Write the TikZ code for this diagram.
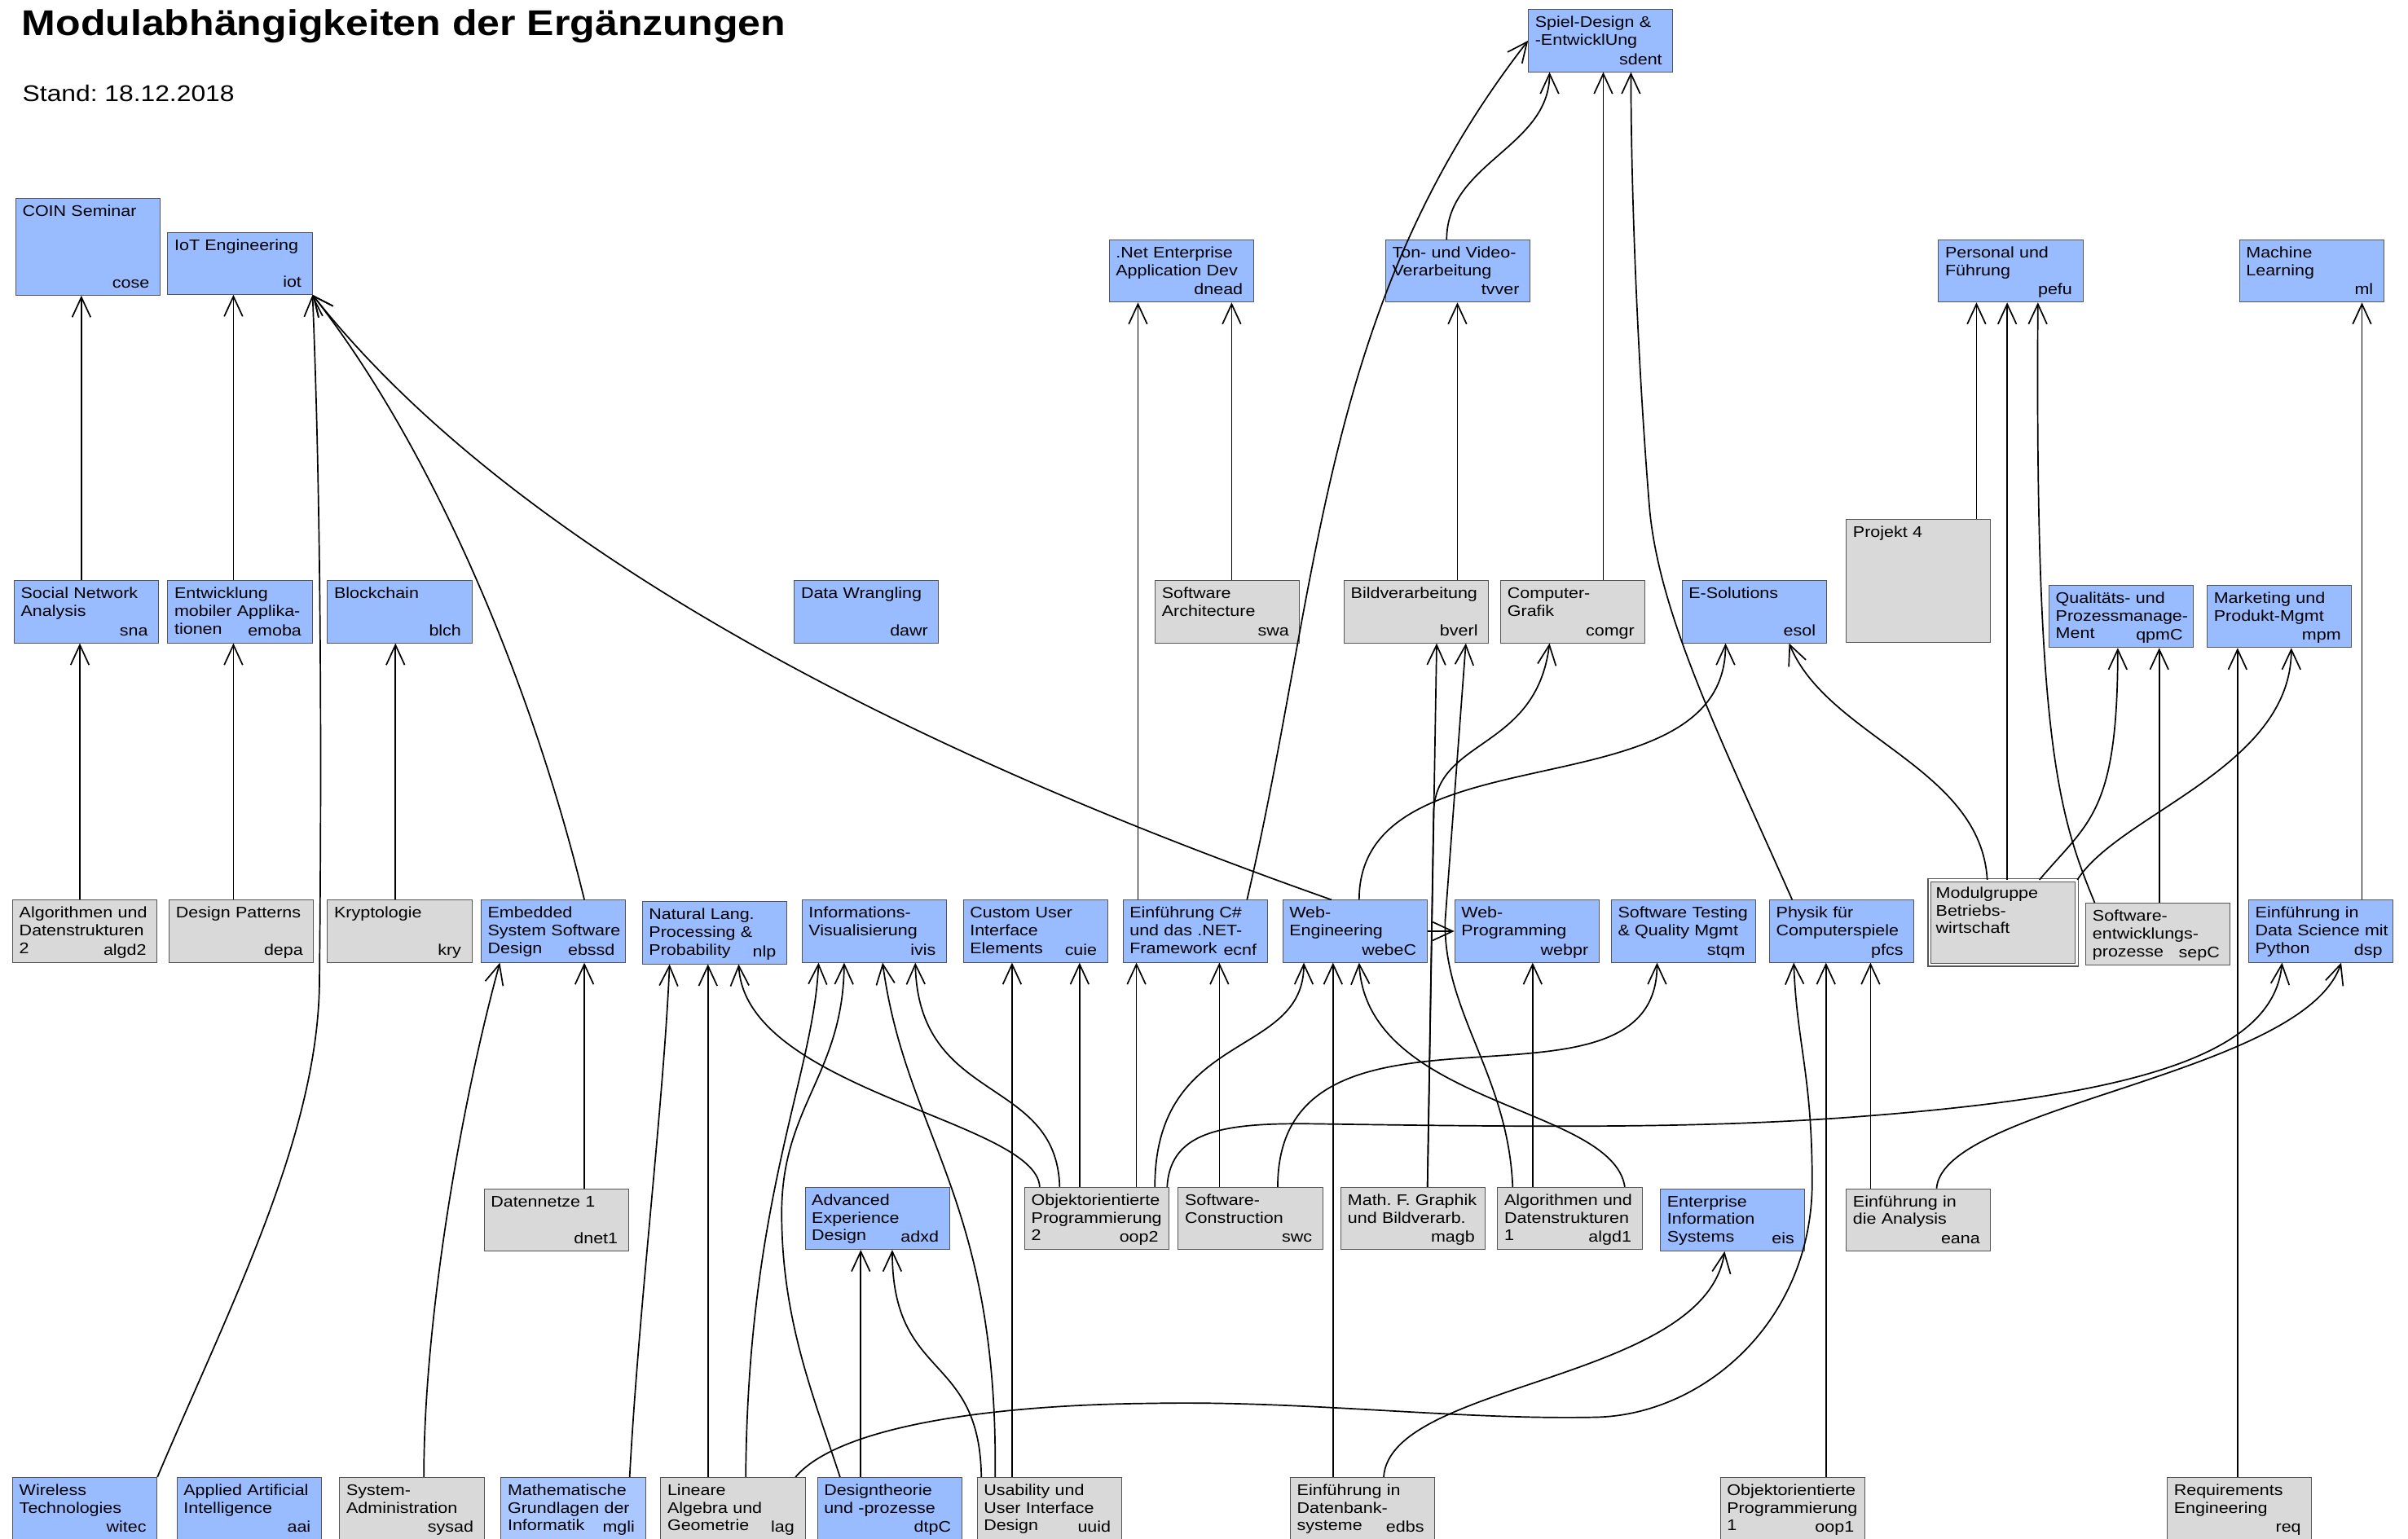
\documentclass[tikz,border=0pt]{standalone}
\usepackage{fontspec}
\setmainfont{Liberation Sans}[FakeStretch=1.14]
\usetikzlibrary{arrows.meta}
\definecolor{modblau}{RGB}{153,187,255}
\definecolor{modhell}{RGB}{170,200,255}
\definecolor{modgrau}{RGB}{217,217,217}
\definecolor{rahmen}{RGB}{85,85,85}
\frenchspacing
% Modul: Kasten, Titel oben links, Kuerzel unten rechts
\newcommand{\modul}[5]{%
  \node[#1] (#2) at (#3) {};
  \node[modtext] (#2-t) at (#2.north west) {#4};
  \node[modkurz] (#2-k) at (#2.south east) {#5};
}

\begin{document}
\begin{tikzpicture}[x=1pt, y=-1pt,
  modul/.style={draw=rahmen, line width=0.5pt, anchor=north west, inner sep=0pt, minimum width=94pt, minimum height=40.5pt},
  blau/.style={modul, fill=modblau},
  hell/.style={modul, fill=modhell},
  grau/.style={modul, fill=modgrau},
  modtext/.style={anchor=base west, align=left, text width=100pt, inner sep=0pt, xshift=4.4pt, yshift=-12pt, font=\fontsize{10}{11.5}\selectfont},
  modkurz/.style={anchor=base east, inner sep=0pt, xshift=-7pt, yshift=5pt, font=\fontsize{10}{11.5}\selectfont},
  pfeil/.style={-{Straight Barb[length=13pt, width=12pt]}, line width=0.9pt, line join=round}]

  \useasboundingbox (0,0) rectangle (1568,1002);

  % Titel
  \node[anchor=base west, inner sep=0pt, font=\bfseries\fontsize{23.3}{28}\selectfont] (titel) at (14,23) {Modulabhängigkeiten der Ergänzungen};
  \node[anchor=base west, inner sep=0pt, font=\fontsize{14.8}{18}\selectfont] (stand) at (14.5,66) {Stand: 18.12.2018};

  % oberste Reihen
  \modul{blau}{sdent}{995,6}{Spiel-Design \&\\-EntwicklUng}{sdent}
  \modul{blau, minimum height=63pt}{cose}{10,129}{COIN Seminar}{cose}
  \modul{blau}{iot}{109,151}{IoT Engineering}{iot}
  \modul{blau}{dnead}{722,156}{.Net Enterprise\\Application Dev}{dnead}
  \modul{blau}{tvver}{902,156}{Ton- und Video-\\Verarbeitung}{tvver}
  \modul{blau}{pefu}{1262,156}{Personal und\\Führung}{pefu}
  \modul{blau}{ml}{1458,156}{Machine\\Learning}{ml}

  % mittlere Reihe
  \modul{blau}{sna}{9,378}{Social Network\\Analysis}{sna}
  \modul{blau}{emoba}{109,378}{Entwicklung\\mobiler Applika-\\tionen}{emoba}
  \modul{blau}{blch}{213,378}{Blockchain}{blch}
  \modul{blau}{dawr}{517,378}{Data Wrangling}{dawr}
  \modul{grau}{swa}{752,378}{Software\\Architecture}{swa}
  \modul{grau}{bverl}{875,378}{Bildverarbeitung}{bverl}
  \modul{grau}{comgr}{977,378}{Computer-\\Grafik}{comgr}
  \modul{blau}{esol}{1095,378}{E-Solutions}{esol}
  \modul{grau, minimum height=80pt}{proj4}{1202,338}{Projekt 4}{}
  \modul{blau}{qpmC}{1334,381}{Qualitäts- und\\Prozessmanage-\\Ment}{qpmC}
  \modul{blau}{mpm}{1437,381}{Marketing und\\Produkt-Mgmt}{mpm}

  % vierte Reihe
  \modul{grau}{algd2}{8,586}{Algorithmen und\\Datenstrukturen\\2}{algd2}
  \modul{grau}{depa}{110,586}{Design Patterns}{depa}
  \modul{grau}{kry}{213,586}{Kryptologie}{kry}
  \modul{blau}{ebssd}{313,586}{Embedded\\System Software\\Design}{ebssd}
  \modul{blau}{nlp}{418,587}{Natural Lang.\\Processing \&\\Probability}{nlp}
  \modul{blau}{ivis}{522,586}{Informations-\\Visualisierung}{ivis}
  \modul{blau}{cuie}{627,586}{Custom User\\Interface\\Elements}{cuie}
  \modul{blau}{ecnf}{731,586}{Einführung C\#\\und das .NET-\\Framework}{ecnf}
  \modul{blau}{webeC}{835,586}{Web-\\Engineering}{webeC}
  \modul{blau}{webpr}{947,586}{Web-\\Programming}{webpr}
  \modul{blau}{stqm}{1049,586}{Software Testing\\\& Quality Mgmt}{stqm}
  \modul{blau}{pfcs}{1152,586}{Physik für\\Computerspiele}{pfcs}
  \modul{grau, minimum width=96pt, minimum height=55pt, double=white, double distance=1.2pt, line width=0.7pt}{modbw}{1256,573}{Modulgruppe\\Betriebs-\\wirtschaft}{}
  \modul{grau}{sepC}{1358,588}{Software-\\entwicklungs-\\prozesse}{sepC}
  \modul{blau}{dsp}{1464,586}{Einführung in\\Data Science mit\\Python}{dsp}

  % fuenfte Reihe
  \modul{grau}{dnet1}{315,774}{Datennetze 1}{dnet1}
  \modul{blau}{adxd}{524,773}{Advanced\\Experience\\Design}{adxd}
  \modul{grau}{oop2}{667,773}{Objektorientierte\\Programmierung\\2}{oop2}
  \modul{grau}{swc}{767,773}{Software-\\Construction}{swc}
  \modul{grau}{magb}{873,773}{Math. F. Graphik\\und Bildverarb.}{magb}
  \modul{grau}{algd1}{975,773}{Algorithmen und\\Datenstrukturen\\1}{algd1}
  \modul{blau}{eis}{1081,774}{Enterprise\\Information\\Systems}{eis}
  \modul{grau}{eana}{1202,774}{Einführung in\\die Analysis}{eana}

  % unterste Reihe
  \modul{blau}{witec}{8,962}{Wireless\\Technologies}{witec}
  \modul{blau}{aai}{115,962}{Applied Artificial\\Intelligence}{aai}
  \modul{grau}{sysad}{221,962}{System-\\Administration}{sysad}
  \modul{hell}{mgli}{326,962}{Mathematische\\Grundlagen der\\Informatik}{mgli}
  \modul{grau}{lag}{430,962}{Lineare\\Algebra und\\Geometrie}{lag}
  \modul{blau}{dtpC}{532,962}{Designtheorie\\und -prozesse}{dtpC}
  \modul{grau}{uuid}{636,962}{Usability und\\User Interface\\Design}{uuid}
  \modul{grau}{edbs}{840,962}{Einführung in\\Datenbank-\\systeme}{edbs}
  \modul{grau}{oop1}{1120,962}{Objektorientierte\\Programmierung\\1}{oop1}
  \modul{grau}{req}{1411,962}{Requirements\\Engineering}{req}

  % Pfeile nach oben
  \draw[pfeil] (ecnf.north -| 812,0) .. controls (860,380) and (860,200) .. (sdent.west);
  \draw[pfeil] (tvver.north -| 942,0) .. controls (942,106) and (1009,96) .. (sdent.south -| 1009,0);
  \draw[pfeil] (comgr.north -| 1044,0) -- (sdent.south -| 1044,0);
  \draw[pfeil] (pfcs.north -| 1167,0) .. controls (1120,480) and (1080,400) .. (1074,330) .. controls (1066,230) and (1062,120) .. (sdent.south -| 1062,0);
  \draw[pfeil] (sna.north -| 53,0) -- (cose.south -| 53,0);
  \draw[pfeil] (emoba.north -| 152,0) -- (iot.south -| 152,0);
  \draw[pfeil] (witec.north east) .. controls (150,850) and (207,740) .. (208,640) .. controls (210,450) and (208,300) .. (iot.south east);
  \draw[pfeil] (ebssd.north -| 380.5,0) .. controls (345,440) and (280,290) .. (iot.south east);
  \draw[pfeil] (webeC.north -| 867,0) .. controls (680,520) and (360,390) .. (iot.south east);
  \draw[pfeil] (ecnf.north -| 741,0) -- (dnead.south -| 741,0);
  \draw[pfeil] (swa.north -| 802,0) -- (dnead.south -| 802,0);
  \draw[pfeil] (bverl.north -| 949,0) -- (tvver.south -| 949,0);
  \draw[pfeil] (proj4.north -| 1287,0) -- (pefu.south -| 1287,0);
  \draw[pfeil] (modbw.north -| 1307,0) -- (pefu.south -| 1307,0);
  \draw[pfeil] (sepC.north -| 1364,0) .. controls (1340,530) and (1325,480) .. (pefu.south -| 1327,0);
  \draw[pfeil] (dsp.north -| 1538,0) -- (ml.south -| 1538,0);

  % zur mittleren Reihe
  \draw[pfeil] (algd2.north -| 52,0) -- (sna.south -| 52,0);
  \draw[pfeil] (depa.north -| 152,0) -- (emoba.south -| 152,0);
  \draw[pfeil] (kry.north -| 257.5,0) -- (blch.south -| 257.5,0);
  \draw[pfeil] (magb.north -| 929.5,0) -- (bverl.south -| 935.5,0);
  \draw[pfeil] (algd1.north -| 985,0) .. controls (982,700) and (940,660) .. (941,600) -- (bverl.south -| 954.5,0);
  \draw[pfeil] (magb.north -| 929.5,0) -- (933.5,530) .. controls (934,480) and (1000,490) .. (comgr.south -| 1009,0);
  \draw[pfeil] (webeC.north -| 885,0) .. controls (885,472) and (1123.6,532) .. (esol.south -| 1123.6,0);
  \draw[pfeil] (modbw.north -| 1294,0) .. controls (1290,500) and (1190,480) .. (esol.south -| 1165,0);
  \draw[pfeil] (modbw.north -| 1328,0) .. controls (1360,535) and (1379,530) .. (qpmC.south -| 1379,0);
  \draw[pfeil] (sepC.north -| 1406,0) -- (qpmC.south -| 1406,0);
  \draw[pfeil] (modbw.north east) .. controls (1380,530) and (1492,500) .. (mpm.south -| 1492,0);
  \draw[pfeil] (req.north -| 1457,0) -- (mpm.south -| 1457,0);

  % zur vierten Reihe
  \draw[pfeil] (sysad.north -| 276,0) .. controls (276,860) and (300,720) .. (ebssd.south -| 325.5,0);
  \draw[pfeil] (dnet1.north -| 380.5,0) -- (ebssd.south -| 380.5,0);
  \draw[pfeil] (mgli.north -| 410,0) .. controls (416,850) and (432,720) .. (nlp.south -| 436,0);
  \draw[pfeil] (lag.north -| 461,0) -- (nlp.south -| 461,0);
  \draw[pfeil] (oop2.north -| 677,0) .. controls (675,730) and (485,710) .. (nlp.south -| 481,0);
  \draw[pfeil] (lag.north -| 485.6,0) .. controls (487,780) and (530,700) .. (ivis.south -| 533,0);
  \draw[pfeil] (dtpC.north -| 547,0) .. controls (530,910) and (509,860) .. (509,790) .. controls (509,720) and (549,700) .. (ivis.south -| 549.7,0);
  \draw[pfeil] (uuid.north -| 648,0) .. controls (650,780) and (590,740) .. (ivis.south -| 574.7,0);
  \draw[pfeil] (oop2.north -| 690,0) .. controls (688,700) and (598,720) .. (ivis.south -| 596,0);
  \draw[pfeil] (uuid.north -| 659,0) -- (cuie.south -| 659,0);
  \draw[pfeil] (oop2.north -| 703,0) -- (cuie.south -| 703,0);
  \draw[pfeil] (oop2.north -| 740,0) -- (ecnf.south -| 740,0);
  \draw[pfeil] (swc.north -| 794,0) -- (ecnf.south -| 794,0);
  \draw[pfeil] (oop2.north -| 752,0) .. controls (752,670) and (849,690) .. (webeC.south -| 849,0);
  \draw[pfeil] (edbs.north -| 868,0) -- (webeC.south -| 868,0);
  \draw[pfeil] (algd1.north -| 1058,0) .. controls (1050,720) and (890,720) .. (webeC.south -| 885,0);
  \draw[pfeil] (webeC.east) -- (webpr.west);
  \draw[pfeil] (algd1.north -| 998,0) -- (webpr.south -| 998,0);
  \draw[pfeil] (swc.north -| 832,0) .. controls (832,630) and (1079,740) .. (stqm.south -| 1079,0);
  \draw[pfeil] (lag.north -| 518,0) .. controls (545,930) and (640,915) .. (750,914) .. controls (850,912) and (950,925) .. (1040,923) .. controls (1110,921) and (1180,860) .. (1180,770) .. controls (1180,700) and (1170,680) .. (pfcs.south -| 1168,0);
  \draw[pfeil] (oop1.north -| 1189,0) -- (pfcs.south -| 1189,0);
  \draw[pfeil] (eana.north -| 1218,0) -- (pfcs.south -| 1218,0);
  \draw[pfeil] (oop2.north -| 760,0) .. controls (762,735) and (800,731) .. (860,732) .. controls (1000,734) and (1100,735) .. (1200,728) .. controls (1380,715) and (1480,690) .. (dsp.south -| 1486,0);
  \draw[pfeil] (eana.north -| 1261,0) .. controls (1265,720) and (1500,700) .. (dsp.south -| 1524.5,0);

  % zur fuenften Reihe
  \draw[pfeil] (dtpC.north -| 560.5,0) -- (adxd.south -| 560.5,0);
  \draw[pfeil] (uuid.north -| 639,0) .. controls (638,880) and (581,900) .. (adxd.south -| 581,0);
  \draw[pfeil] (edbs.north -| 901,0) .. controls (905,900) and (1110,900) .. (eis.south -| 1123,0);
\end{tikzpicture}
\end{document}
